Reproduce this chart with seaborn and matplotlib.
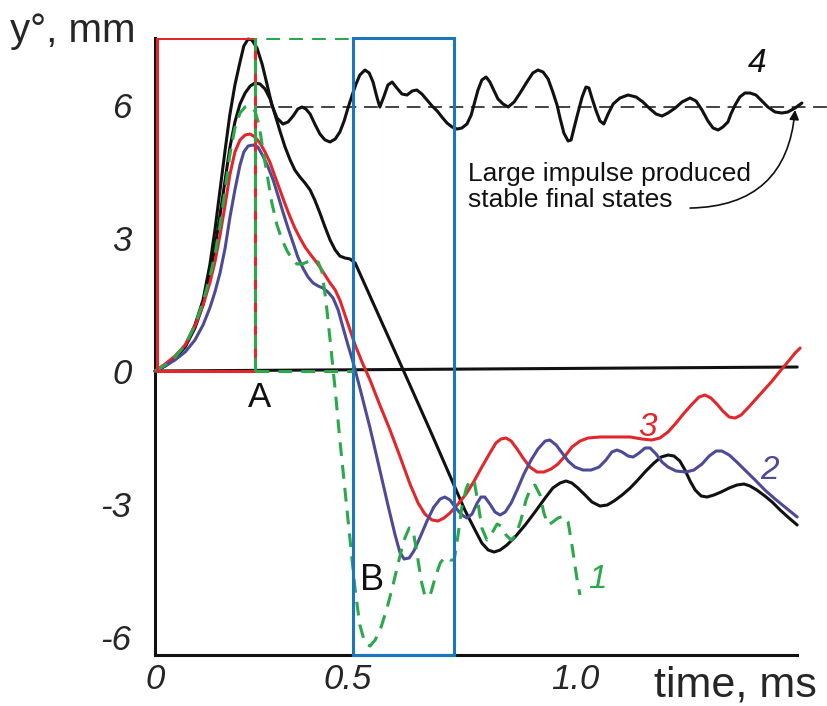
import numpy as np
import pandas as pd
import matplotlib
matplotlib.use("Agg")
import matplotlib.pyplot as plt
import matplotlib.transforms as mtransforms
import seaborn as sns

# ---- measured responses: time in ms, displacement y° in mm ----
# curve 1 (green, dashed)
t1 = [0, 0.024, 0.047, 0.071, 0.094, 0.113, 0.129, 0.141, 0.153, 0.165, 0.176, 0.188,
      0.2, 0.212, 0.224, 0.235, 0.245, 0.254, 0.264, 0.275, 0.287, 0.299, 0.311, 0.322,
      0.334, 0.346, 0.358, 0.372, 0.384, 0.393, 0.402, 0.412, 0.424, 0.435, 0.447,
      0.459, 0.471, 0.482, 0.494, 0.506, 0.518, 0.532, 0.546, 0.56, 0.574, 0.586,
      0.598, 0.607, 0.616, 0.626, 0.635, 0.647, 0.659, 0.671, 0.682, 0.694, 0.704,
      0.713, 0.722, 0.732, 0.741, 0.751, 0.76, 0.769, 0.781, 0.793, 0.805, 0.814,
      0.826, 0.838, 0.849, 0.861, 0.873, 0.885, 0.894, 0.906, 0.915, 0.925, 0.936,
      0.948, 0.962, 0.972, 0.981, 0.988, 0.995, 1.0]
y1 = [0, 0.135, 0.315, 0.586, 1.036, 1.554, 2.117, 2.613, 3.288, 4.077, 4.865, 5.473,
      5.811, 5.946, 5.968, 5.856, 5.541, 4.977, 4.414, 3.784, 3.288, 2.95, 2.703, 2.523,
      2.41, 2.41, 2.455, 2.5, 2.455, 2.23, 1.599, 0.698, -0.428, -1.554, -2.68,
      -3.806, -4.932, -5.721, -6.126, -6.194, -6.059, -5.766, -5.338, -4.82, -4.257, -3.806,
      -3.536, -3.581, -4.077, -4.707, -5.068, -5.068, -4.662, -4.324, -4.189, -4.257, -4.257,
      -3.694, -3.063, -2.658, -2.455, -2.477, -2.973, -3.536, -3.806, -3.649, -3.446, -3.491,
      -3.694, -3.806, -3.694, -3.356, -2.905, -2.613, -2.568, -2.793, -3.198, -3.468, -3.401,
      -3.311, -3.266, -3.401, -3.919, -4.369, -4.82, -5.045]

# curve 2 (purple)
t2 = [0, 0.024, 0.047, 0.071, 0.094, 0.113, 0.129, 0.141, 0.153, 0.165, 0.176, 0.188,
      0.2, 0.209, 0.219, 0.231, 0.242, 0.254, 0.266, 0.278, 0.289, 0.301, 0.313, 0.325,
      0.336, 0.348, 0.36, 0.372, 0.384, 0.395, 0.407, 0.419, 0.431, 0.442, 0.454,
      0.466, 0.482, 0.506, 0.529, 0.548, 0.565, 0.576, 0.586, 0.598, 0.609, 0.624,
      0.64, 0.656, 0.671, 0.682, 0.694, 0.708, 0.722, 0.734, 0.746, 0.758, 0.767,
      0.776, 0.788, 0.8, 0.812, 0.824, 0.838, 0.852, 0.868, 0.885, 0.901, 0.918,
      0.929, 0.944, 0.958, 0.972, 0.988, 1.007, 1.026, 1.045, 1.061, 1.075, 1.087,
      1.099, 1.113, 1.125, 1.139, 1.153, 1.165, 1.179, 1.193, 1.207, 1.226, 1.249,
      1.268, 1.287, 1.304, 1.32, 1.334, 1.351, 1.369, 1.388, 1.412, 1.435, 1.459,
      1.485, 1.511]
y2 = [0, 0.113, 0.248, 0.428, 0.698, 1.036, 1.419, 1.779, 2.207, 2.77, 3.446, 4.077,
      4.64, 4.932, 5.068, 5.09, 5.045, 4.842, 4.595, 4.302, 3.964, 3.581, 3.221, 2.883,
      2.568, 2.32, 2.117, 1.982, 1.914, 1.869, 1.779, 1.644, 1.374, 0.991, 0.586,
      0.203, -0.383, -1.284, -2.23, -3.018, -3.694, -4.077, -4.234, -4.212, -4.054, -3.739,
      -3.378, -3.063, -2.883, -2.838, -2.905, -3.086, -3.243, -3.311, -3.221, -2.973, -2.838,
      -2.838, -2.995, -3.176, -3.243, -3.176, -2.973, -2.68, -2.32, -2.005, -1.757, -1.577,
      -1.554, -1.667, -1.847, -2.027, -2.162, -2.23, -2.23, -2.162, -2.005, -1.824, -1.779,
      -1.824, -1.914, -1.937, -1.847, -1.734, -1.734, -1.869, -2.05, -2.162, -2.252, -2.275,
      -2.23, -2.095, -1.914, -1.802, -1.802, -1.892, -2.05, -2.23, -2.455, -2.68, -2.883,
      -3.086, -3.288]

# curve 3 (red)
t3 = [0, 0.024, 0.047, 0.071, 0.094, 0.113, 0.129, 0.141, 0.153, 0.165, 0.176, 0.188,
      0.2, 0.212, 0.224, 0.235, 0.247, 0.259, 0.271, 0.282, 0.294, 0.306, 0.318, 0.329,
      0.341, 0.353, 0.365, 0.376, 0.388, 0.4, 0.412, 0.424, 0.435, 0.447, 0.459,
      0.471, 0.487, 0.506, 0.529, 0.553, 0.576, 0.6, 0.619, 0.635, 0.652, 0.666,
      0.68, 0.694, 0.713, 0.732, 0.751, 0.769, 0.788, 0.802, 0.814, 0.826, 0.838,
      0.852, 0.866, 0.882, 0.899, 0.915, 0.932, 0.948, 0.965, 0.981, 1.0, 1.019,
      1.047, 1.082, 1.118, 1.146, 1.169, 1.188, 1.207, 1.226, 1.245, 1.264, 1.28,
      1.294, 1.308, 1.322, 1.336, 1.351, 1.365, 1.379, 1.395, 1.414, 1.433, 1.452,
      1.471, 1.489, 1.506, 1.518]
y3 = [0, 0.158, 0.338, 0.586, 1.014, 1.486, 1.982, 2.455, 3.063, 3.739, 4.414, 4.932,
      5.203, 5.315, 5.338, 5.27, 5.135, 4.932, 4.685, 4.392, 4.077, 3.761, 3.468, 3.221,
      2.995, 2.793, 2.635, 2.5, 2.342, 2.162, 1.982, 1.824, 1.599, 1.261, 0.923,
      0.586, 0.203, -0.203, -0.766, -1.329, -1.914, -2.545, -2.973, -3.221, -3.356, -3.378,
      -3.311, -3.198, -2.995, -2.77, -2.477, -2.162, -1.847, -1.622, -1.532, -1.509, -1.577,
      -1.757, -1.959, -2.162, -2.275, -2.275, -2.207, -2.095, -1.914, -1.712, -1.577, -1.509,
      -1.486, -1.486, -1.486, -1.532, -1.554, -1.509, -1.374, -1.171, -0.946, -0.743, -0.586,
      -0.541, -0.608, -0.743, -0.901, -1.036, -1.059, -0.991, -0.833, -0.631, -0.428, -0.225,
      0.0, 0.203, 0.405, 0.518]

# curve 4 (black, settles at the stable level)
t4 = [0, 0.024, 0.047, 0.071, 0.094, 0.113, 0.129, 0.141, 0.153, 0.165, 0.176, 0.188,
      0.2, 0.209, 0.219, 0.228, 0.24, 0.252, 0.264, 0.275, 0.287, 0.301, 0.313, 0.325,
      0.336, 0.346, 0.355, 0.365, 0.376, 0.388, 0.4, 0.412, 0.424, 0.435, 0.445,
      0.454, 0.464, 0.473, 0.482, 0.494, 0.504, 0.513, 0.522, 0.529, 0.539, 0.548,
      0.558, 0.569, 0.581, 0.593, 0.605, 0.616, 0.628, 0.64, 0.652, 0.664, 0.675,
      0.687, 0.699, 0.711, 0.722, 0.734, 0.744, 0.751, 0.76, 0.769, 0.779, 0.788,
      0.798, 0.807, 0.819, 0.831, 0.845, 0.859, 0.875, 0.889, 0.901, 0.913, 0.925,
      0.936, 0.946, 0.953, 0.962, 0.972, 0.979, 0.986, 0.995, 1.005, 1.014, 1.021,
      1.028, 1.038, 1.047, 1.056, 1.066, 1.078, 1.094, 1.113, 1.132, 1.148, 1.165,
      1.179, 1.193, 1.207, 1.224, 1.24, 1.259, 1.273, 1.287, 1.301, 1.313, 1.325,
      1.336, 1.348, 1.355, 1.365, 1.376, 1.388, 1.4, 1.414, 1.428, 1.442, 1.459,
      1.475, 1.489, 1.506, 1.522]
y4 = [0, 0.113, 0.293, 0.563, 1.036, 1.599, 2.387, 3.176, 4.077, 4.977, 5.766, 6.441,
      6.959, 7.32, 7.477, 7.455, 7.275, 6.914, 6.441, 5.991, 5.698, 5.563, 5.608, 5.743,
      5.901, 5.946, 5.901, 5.788, 5.563, 5.338, 5.203, 5.158, 5.225, 5.383, 5.631,
      5.923, 6.216, 6.464, 6.667, 6.779, 6.712, 6.509, 6.171, 5.946, 6.194, 6.441,
      6.509, 6.374, 6.239, 6.216, 6.306, 6.329, 6.239, 6.104, 5.968, 5.856, 5.721,
      5.586, 5.495, 5.45, 5.473, 5.563, 5.766, 6.014, 6.329, 6.554, 6.622, 6.509,
      6.306, 6.126, 6.014, 5.946, 6.059, 6.261, 6.509, 6.712, 6.779, 6.734, 6.577,
      6.284, 5.991, 5.698, 5.36, 5.18, 5.203, 5.473, 5.811, 6.171, 6.396, 6.374,
      6.149, 5.856, 5.631, 5.563, 5.788, 6.014, 6.149, 6.216, 6.171, 6.059, 5.901,
      5.788, 5.743, 5.811, 5.923, 6.059, 6.149, 6.081, 5.878, 5.631, 5.473, 5.428,
      5.495, 5.608, 5.788, 5.991, 6.171, 6.261, 6.261, 6.216, 6.081, 5.946, 5.833,
      5.811, 5.833, 5.923, 6.036]

# response to the shorter impulse (black, no number)
t0 = [0, 0.024, 0.047, 0.071, 0.094, 0.113, 0.129, 0.141, 0.153, 0.165, 0.176, 0.188,
      0.2, 0.212, 0.224, 0.235, 0.247, 0.259, 0.271, 0.282, 0.294, 0.306, 0.318, 0.329,
      0.341, 0.353, 0.365, 0.376, 0.388, 0.4, 0.412, 0.424, 0.435, 0.447, 0.459,
      0.471, 0.584, 0.647, 0.729, 0.753, 0.769, 0.784, 0.798, 0.812, 0.828, 0.847,
      0.871, 0.894, 0.918, 0.936, 0.953, 0.967, 0.981, 0.995, 1.012, 1.028, 1.047,
      1.064, 1.08, 1.099, 1.118, 1.136, 1.155, 1.174, 1.191, 1.207, 1.221, 1.235,
      1.247, 1.259, 1.271, 1.285, 1.299, 1.315, 1.332, 1.351, 1.369, 1.386, 1.4,
      1.416, 1.435, 1.452, 1.471, 1.489, 1.511]
y0 = [0, 0.113, 0.293, 0.541, 0.968, 1.486, 2.162, 2.77, 3.514, 4.302, 5.023, 5.608,
      6.014, 6.261, 6.419, 6.486, 6.464, 6.351, 6.126, 5.788, 5.405, 5.045, 4.752, 4.527,
      4.369, 4.234, 4.077, 3.851, 3.559, 3.243, 2.95, 2.725, 2.59, 2.545, 2.523,
      2.432, 0.023, -1.329, -3.131, -3.581, -3.874, -4.032, -4.077, -4.032, -3.919, -3.739,
      -3.468, -3.176, -2.86, -2.635, -2.523, -2.477, -2.523, -2.635, -2.793, -2.95, -3.041,
      -3.018, -2.928, -2.793, -2.635, -2.455, -2.252, -2.072, -1.937, -1.892, -1.914, -2.027,
      -2.23, -2.477, -2.68, -2.815, -2.838, -2.793, -2.725, -2.635, -2.568, -2.545, -2.59,
      -2.68, -2.815, -2.95, -3.131, -3.288, -3.468]

# time intervals (ms) and levels (mm) of the marked regions
t_a = 0.235                  # end of impulse A
t_b0, t_b1 = 0.466, 0.7035   # window B
y_top = 7.5
y_bottom = -6.396
y_stable = 5.95
t_end = 1.511
t_right = 1.5835

y_ticks = [-6, -3, 0, 3, 6]
y_ticklabels = ["-6", "-3", "0", "3", "6"]
x_ticks = [0, 0.5, 1.0, t_end]
x_ticklabels = ["0", "0.5", "1.0", ""]

RED = "#e3262b"
GREEN = "#2aa84a"
PURPLE = "#4d4b96"
BLUE = "#1b76bd"
BLACK = "#111111"

sns.set_style("white")
plt.rcParams["font.family"] = ["Liberation Sans", "DejaVu Sans"]
narrow = ["Liberation Sans Narrow", "Liberation Sans", "DejaVu Sans"]

fig = plt.figure(figsize=(8.28, 7.06), dpi=100)
ax = fig.add_axes([155 / 828, 51 / 706, 673 / 828, 617 / 706])
ax.set_xlim(0, t_right)
ax.set_ylim(y_bottom, y_top)

lw = 2.2
line_kw = dict(estimator=None, sort=False, legend=False, lw=lw,
               solid_joinstyle="round", solid_capstyle="round", clip_on=False)

# reference level of the stable final state
ax.plot([0.24, t_right], [y_stable, y_stable], color=BLACK, lw=1.1,
        dashes=(9, 5), zorder=2, clip_on=False)
# zero line
ax.plot([0, t_end], [0, 0.09], color=BLACK, lw=lw, zorder=2)

curves = [
    (t0, y0, BLACK, None),
    (t4, y4, BLACK, None),
    (t3, y3, RED, None),
    (t2, y2, PURPLE, None),
    (t1, y1, GREEN, (4.5, 3)),
]
for tt, yy, col, dash in curves:
    df = pd.DataFrame({"t": tt, "y": yy})
    sns.lineplot(data=df, x="t", y="y", color=col, ax=ax, zorder=3, **line_kw)
    if dash is not None:
        ax.lines[-1].set_dashes(dash)
        ax.lines[-1].set_dash_capstyle("butt")
        ax.lines[-1].set_dash_joinstyle("round")

# impulse A (red) and its mirror (green dashed), window B (blue)
box_lw = 2.2
ax.plot([0.004, 0.004, t_a, t_a, 0.004], [0, y_top, y_top, 0, 0],
        color=RED, lw=box_lw, zorder=4, solid_joinstyle="miter")
ax.plot([t_a, t_a, t_b0], [0, y_top, y_top], color=GREEN, lw=box_lw,
        dashes=(4.5, 3), zorder=5)
ax.plot([t_a, t_b0], [0, 0], color=GREEN, lw=box_lw, dashes=(4.5, 3), zorder=5)
ax.plot([t_b0, t_b0, t_b1, t_b1, t_b0], [y_bottom, y_top, y_top, y_bottom, y_bottom],
        color=BLUE, lw=box_lw, zorder=4, solid_joinstyle="miter", clip_on=False)

# axes frame
for side in ("top", "right"):
    ax.spines[side].set_visible(False)
for side in ("left", "bottom"):
    ax.spines[side].set_linewidth(2.2)
    ax.spines[side].set_color(BLACK)
ax.spines["bottom"].set_bounds(0, t_end)

ax.set_yticks(y_ticks)
ax.set_yticklabels(y_ticklabels)
ax.set_xticks(x_ticks)
ax.set_xticklabels(x_ticklabels)
ax.tick_params(axis="both", direction="in", length=7, width=2.2, color=BLACK)
ax.tick_params(axis="y", pad=17)
ax.tick_params(axis="x", pad=6)
for lab in ax.get_xticklabels() + ax.get_yticklabels():
    lab.set_family(narrow)
    lab.set_style("italic")
    lab.set_fontsize(25)
xlabs = ax.get_xticklabels()
for lab, shift_px in ((xlabs[1], -20), (xlabs[2], -5)):
    lab.set_transform(lab.get_transform()
                      + mtransforms.ScaledTranslation(shift_px / 100, 0, fig.dpi_scale_trans))
ax.set_xlabel("")
ax.set_ylabel("")

# axis titles
fig.text(10 / 828, (706 - 42) / 706, "y°, mm", fontsize=29, va="baseline", ha="left")
fig.text(654 / 828, (706 - 696) / 706, "time, ms", fontsize=31, va="baseline", ha="left")

# markers A and B
ax.text(0.245, -0.59, "A", fontsize=25, ha="center", va="center", color=BLACK)
ax.text(0.511, -4.71, "B", fontsize=26, ha="center", va="center", color=BLACK)

# curve numbers
num_kw = dict(fontsize=24, ha="center", va="center", family=narrow, style="italic")
ax.text(1.416, 6.93, "4", color=BLACK, **num_kw)
ax.text(1.158, -1.28, "3", color=RED, **num_kw)
ax.text(1.447, -2.23, "2", color=PURPLE, **num_kw)
ax.text(1.042, -4.7, "1", color=GREEN, **num_kw)

# note with arrow to the stable level
ax.text(0.736, 4.14, "Large impulse produced\nstable final states", fontsize=19,
        ha="left", va="center", linespacing=1.12, color=BLACK)
ax.annotate("", xy=(1.506, 5.88), xytext=(1.259, 3.67),
            arrowprops=dict(arrowstyle="-|>", connectionstyle="arc3,rad=0.45",
                            color=BLACK, lw=1.2, mutation_scale=14,
                            shrinkA=0, shrinkB=0),
            annotation_clip=False)

fig.savefig("out.png", dpi=100)
